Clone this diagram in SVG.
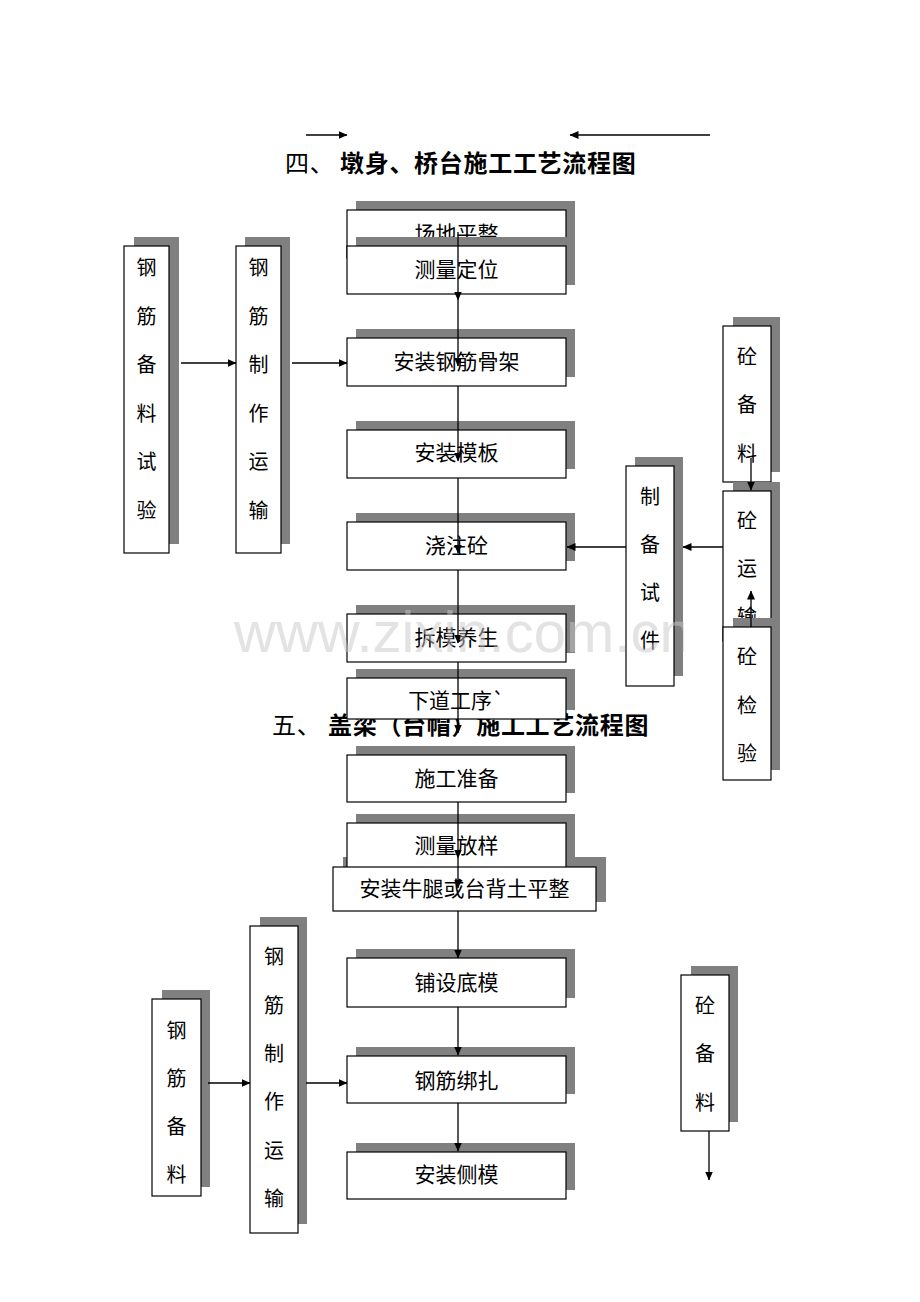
<svg xmlns="http://www.w3.org/2000/svg" width="920" height="1302" viewBox="0 0 920 1302">
<style>
.sh{fill:#808080}
.bx{fill:#fff;stroke:#000;stroke-width:1.2}
.t{font-family:"Noto Sans CJK SC","Noto Sans",sans-serif;font-size:21px;fill:#000;text-anchor:middle}
.v{font-family:"Noto Sans CJK SC","Noto Sans",sans-serif;font-size:20px;fill:#000;text-anchor:middle}
.ttl{font-family:"Noto Sans CJK SC","Noto Sans",sans-serif;font-size:24px;fill:#000;letter-spacing:0.7px}
.b{font-weight:bold}
.c{stroke:#000;stroke-width:1.3;fill:none;marker-end:url(#ah)}
.wm{font-family:"Liberation Sans",Arial,sans-serif;font-size:58px;fill:#c8c8c8;fill-opacity:0.5}
</style>
<defs>
<marker id="ah" markerWidth="9" markerHeight="8" refX="8.5" refY="4" orient="auto" markerUnits="userSpaceOnUse">
<path d="M0,0 L9,4 L0,8 z" fill="#000"/>
</marker>
<clipPath id="wmclip"><rect x="0" y="0" width="684" height="1302"/></clipPath>
</defs>
<rect width="920" height="1302" fill="#fff"/>

<g id="title4">
<text class="ttl" x="285" y="172">四、</text>
<text class="ttl b" x="340" y="172">墩身、桥台施工工艺流程图</text>
</g>

<g id="n_cdpz"><rect class="sh" x="356" y="201" width="219" height="48"/><rect class="bx" x="347" y="210" width="219" height="48"/><text class="t" x="456.5" y="241">场地平整</text></g>
<g id="n_cldw"><rect class="sh" x="356" y="237" width="219" height="48"/><rect class="bx" x="347" y="246" width="219" height="48"/><text class="t" x="456.5" y="277">测量定位</text></g>
<g id="n_azgjgj"><rect class="sh" x="356" y="329" width="219" height="48"/><rect class="bx" x="347" y="338" width="219" height="48"/><text class="t" x="456.5" y="369">安装钢筋骨架</text></g>
<g id="n_azmb"><rect class="sh" x="356" y="421" width="219" height="48"/><rect class="bx" x="347" y="430" width="219" height="48"/><text class="t" x="456.5" y="460">安装模板</text></g>
<g id="n_jzt"><rect class="sh" x="356" y="513" width="219" height="48"/><rect class="bx" x="347" y="522" width="219" height="48"/><text class="t" x="456.5" y="553">浇注砼</text></g>
<g id="n_cmys"><rect class="sh" x="356" y="605" width="219" height="48"/><rect class="bx" x="347" y="614" width="219" height="48"/><text class="t" x="456.5" y="645">拆模养生</text></g>

<g id="title5">
<text class="ttl" x="272" y="734">五、</text>
<text class="ttl b" x="328" y="734">盖梁（台帽）施工工艺流程图</text>
</g>

<g id="n_xdgx"><rect class="sh" x="356" y="669" width="219" height="41"/><rect class="bx" x="347" y="678" width="219" height="41"/><text class="t" x="456.5" y="708">下道工序`</text></g>

<g id="n_gjblsy"><rect class="sh" x="134" y="237" width="45" height="307"/><rect class="bx" x="124" y="246" width="45" height="307"/>
<text class="v" x="146.5" y="275">钢</text><text class="v" x="146.5" y="324">筋</text><text class="v" x="146.5" y="372">备</text><text class="v" x="146.5" y="421">料</text><text class="v" x="146.5" y="469">试</text><text class="v" x="146.5" y="518">验</text></g>
<g id="n_gjzzys"><rect class="sh" x="245" y="237" width="45" height="307"/><rect class="bx" x="236" y="246" width="45" height="307"/>
<text class="v" x="258.5" y="275">钢</text><text class="v" x="258.5" y="324">筋</text><text class="v" x="258.5" y="372">制</text><text class="v" x="258.5" y="421">作</text><text class="v" x="258.5" y="469">运</text><text class="v" x="258.5" y="518">输</text></g>

<g id="n_tbl1"><rect class="sh" x="733" y="317" width="47" height="155"/><rect class="bx" x="723" y="326" width="48" height="156"/>
<text class="v" x="747" y="364">砼</text><text class="v" x="747" y="412">备</text><text class="v" x="747" y="461">料</text></g>
<g id="n_tys"><rect class="sh" x="733" y="482" width="47" height="150"/><rect class="bx" x="723" y="491" width="48" height="150"/>
<text class="v" x="747" y="528">砼</text><text class="v" x="747" y="576">运</text><text class="v" x="747" y="624">输</text></g>
<g id="n_tjy"><rect class="sh" x="733" y="618" width="47" height="152"/><rect class="bx" x="723" y="627" width="48" height="153"/>
<text class="v" x="747" y="664">砼</text><text class="v" x="747" y="713">检</text><text class="v" x="747" y="761">验</text></g>
<g id="n_zbsj"><rect class="sh" x="635" y="457" width="48" height="219"/><rect class="bx" x="626" y="466" width="48" height="220"/>
<text class="v" x="650" y="504">制</text><text class="v" x="650" y="552">备</text><text class="v" x="650" y="600">试</text><text class="v" x="650" y="648">件</text></g>

<g id="n_sgzb"><rect class="sh" x="356" y="746" width="219" height="47"/><rect class="bx" x="347" y="755" width="219" height="47"/><text class="t" x="456.5" y="786">施工准备</text></g>
<g id="n_azntht"><rect class="sh" x="343" y="857" width="263" height="45"/></g>
<g id="n_clfy"><rect class="sh" x="356" y="814" width="219" height="47"/><rect class="bx" x="347" y="823" width="219" height="47"/><text class="t" x="456.5" y="853">测量放样</text></g>
<g id="n_azntht_box"><rect class="bx" x="333" y="867" width="263" height="44"/><text class="t" x="464.5" y="896">安装牛腿或台背土平整</text></g>
<g id="n_psdm"><rect class="sh" x="356" y="949" width="219" height="49"/><rect class="bx" x="347" y="958" width="219" height="49"/><text class="t" x="456.5" y="990">铺设底模</text></g>
<g id="n_gjbz"><rect class="sh" x="356" y="1047" width="219" height="47"/><rect class="bx" x="347" y="1056" width="219" height="47"/><text class="t" x="456.5" y="1088">钢筋绑扎</text></g>
<g id="n_azcm"><rect class="sh" x="356" y="1143" width="219" height="47"/><rect class="bx" x="347" y="1152" width="219" height="47"/><text class="t" x="456.5" y="1182">安装侧模</text></g>

<g id="n_gjbl2"><rect class="sh" x="162" y="990" width="48" height="197"/><rect class="bx" x="152" y="999" width="49" height="197"/>
<text class="v" x="176.5" y="1038">钢</text><text class="v" x="176.5" y="1086">筋</text><text class="v" x="176.5" y="1134">备</text><text class="v" x="176.5" y="1182">料</text></g>
<g id="n_gjzzys2"><rect class="sh" x="260" y="917" width="47" height="307"/><rect class="bx" x="250" y="926" width="48" height="307"/>
<text class="v" x="274" y="964">钢</text><text class="v" x="274" y="1013">筋</text><text class="v" x="274" y="1061">制</text><text class="v" x="274" y="1109">作</text><text class="v" x="274" y="1158">运</text><text class="v" x="274" y="1206">输</text></g>
<g id="n_tbl2"><rect class="sh" x="691" y="966" width="47" height="156"/><rect class="bx" x="681" y="975" width="48" height="156"/>
<text class="v" x="705" y="1013">砼</text><text class="v" x="705" y="1061">备</text><text class="v" x="705" y="1110">料</text></g>

<g id="connectors">
<line class="c" x1="306" y1="135" x2="347" y2="135"/>
<line class="c" x1="710" y1="135" x2="570" y2="135"/>
<line class="c" x1="458" y1="232" x2="458" y2="300"/>
<line class="c" x1="458" y1="300" x2="458" y2="366"/>
<line class="c" x1="458" y1="386" x2="458" y2="461"/>
<line class="c" x1="458" y1="478" x2="458" y2="553"/>
<line class="c" x1="458" y1="570" x2="458" y2="643"/>
<line class="c" x1="458" y1="662" x2="458" y2="733"/>
<line class="c" x1="181" y1="363" x2="236" y2="363"/>
<line class="c" x1="292" y1="363" x2="347" y2="363"/>
<line class="c" x1="751" y1="458" x2="751" y2="490"/>
<line class="c" x1="751" y1="627" x2="751" y2="591"/>
<line class="c" x1="723" y1="547" x2="683" y2="547"/>
<line class="c" x1="626" y1="547" x2="567" y2="547"/>
<line class="c" x1="458" y1="802" x2="458" y2="858"/>
<line class="c" x1="458" y1="858" x2="458" y2="888"/>
<line class="c" x1="458" y1="911" x2="458" y2="958"/>
<line class="c" x1="458" y1="1007" x2="458" y2="1055"/>
<line class="c" x1="458" y1="1103" x2="458" y2="1151"/>
<line class="c" x1="208" y1="1083" x2="250" y2="1083"/>
<line class="c" x1="306" y1="1083" x2="347" y2="1083"/>
<line class="c" x1="709" y1="1131" x2="709" y2="1180"/>
</g>

<g id="watermark" clip-path="url(#wmclip)">
<text class="wm" x="234" y="652">www.zixin.com.cn</text>
</g>
</svg>
